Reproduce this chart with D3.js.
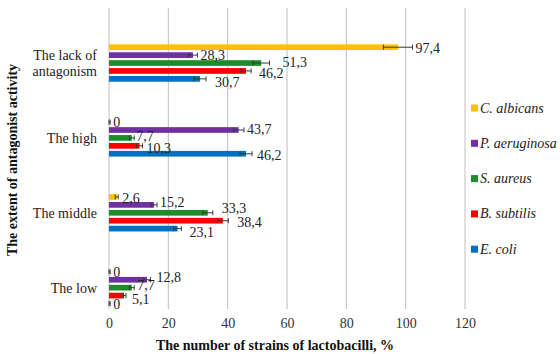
<!DOCTYPE html>
<html>
<head>
<meta charset="utf-8">
<script src="https://cdn.jsdelivr.net/npm/d3@7"></script>
<style>
  html, body { margin: 0; padding: 0; background: #fff; }
  svg { display: block; }
</style>
</head>
<body>
<svg id="chart" width="560" height="354"></svg>
<script>
// Categories (top to bottom) and series (top to bottom within each group)
const categories = ["The lack of antagonism", "The high", "The middle", "The low"];
const categoryLines = [["The lack of", "antagonism"], ["The high"], ["The middle"], ["The low"]];
const seriesNames = ["C. albicans", "P. aeruginosa", "S. aureus", "B. subtilis", "E. coli"];
const seriesColors = ["#FFC000", "#7030A0", "#1E8C2A", "#FF0000", "#0070C0"];

// Percentage of lactobacilli strains, one array per series (order follows categories)
const cAlbicans   = [97.4, 0, 2.6, 0];
const pAeruginosa = [28.3, 43.7, 15.2, 12.8];
const sAureus     = [51.3, 7.7, 33.3, 7.7];
const bSubtilis   = [46.2, 10.3, 38.4, 5.1];
const eColi       = [30.7, 46.2, 23.1, 0];

// Error bar half-widths
const cAlbicansErr   = [4.9, 0.4, 0.5, 0.4];
const pAeruginosaErr = [1.5, 1.8, 1.0, 1.2];
const sAureusErr     = [2.8, 0.8, 1.7, 0.8];
const bSubtilisErr   = [1.7, 1.0, 1.8, 0.6];
const eColiErr       = [2.0, 2.0, 1.3, 0.4];

const xTicks = [0, 20, 40, 60, 80, 100, 120];

// Hand-placed label offsets [dx, dy] in px, per series and category
const labelNudge = [
  [[0, 1], [0, 0], [1, 1], [0, 0]],
  [[0, 0], [0, -1], [0, -3], [3, -3]],
  [[10, -1], [-1, -2], [6, -5], [0, -3]],
  [[5, 2], [1, 2], [6, 1], [3, 3]],
  [[6, 3], [2, 1], [5, 3], [0, 1]]
];

const FONT = '"Liberation Serif", "Times New Roman", serif';

const seriesValues = [cAlbicans, pAeruginosa, sAureus, bSubtilis, eColi];
const seriesErrors = [cAlbicansErr, pAeruginosaErr, sAureusErr, bSubtilisErr, eColiErr];

const rows = [];
categories.forEach((c, ci) => {
  seriesNames.forEach((s, si) => {
    rows.push({ cat: c, ci, ser: s, si, value: seriesValues[si][ci], err: seriesErrors[si][ci] });
  });
});

const svg = d3.select("#chart");
const plot = { left: 109, right: 465, top: 8, bottom: 309 };

const x = d3.scaleLinear().domain([0, 120]).range([plot.left, plot.right]);
const y = d3.scaleBand().domain(categories).range([plot.top, plot.bottom])
  .paddingInner(0.48).paddingOuter(0.25).align(0.95);
const ySub = d3.scaleBand().domain(seriesNames).range([0, y.bandwidth()])
  .paddingInner(0.28).paddingOuter(0.1);

// Vertical gridlines
svg.append("g").selectAll("line").data(xTicks).join("line")
  .attr("x1", d => x(d)).attr("x2", d => x(d))
  .attr("y1", plot.top).attr("y2", plot.bottom)
  .attr("stroke", "#BEBEBE").attr("stroke-width", 1);

// X axis tick labels
const xAxis = d3.axisBottom(x).tickValues(xTicks).tickSize(0).tickPadding(0);
const gx = svg.append("g").attr("transform", `translate(0,${plot.bottom + 9})`).call(xAxis)
  .attr("font-family", FONT).attr("font-size", 14);
gx.select(".domain").remove();
gx.selectAll("text").attr("fill", "#333").attr("dy", "0.71em");

// Bars
svg.append("g").selectAll("rect").data(rows).join("rect")
  .attr("x", x(0))
  .attr("y", d => y(d.cat) + ySub(d.ser))
  .attr("width", d => x(d.value) - x(0))
  .attr("height", ySub.bandwidth())
  .attr("fill", d => seriesColors[d.si]);

// Error bars
const eb = svg.append("g").attr("stroke", "#3a3a3a").attr("stroke-width", 1);
rows.forEach(d => {
  const cy = y(d.cat) + ySub(d.ser) + ySub.bandwidth() / 2;
  const x0 = x(Math.max(0, d.value - d.err)), x1 = x(d.value + d.err);
  eb.append("line").attr("x1", x0).attr("x2", x1).attr("y1", cy).attr("y2", cy);
  eb.append("line").attr("x1", x0).attr("x2", x0).attr("y1", cy - 2.5).attr("y2", cy + 2.5);
  eb.append("line").attr("x1", x1).attr("x2", x1).attr("y1", cy - 2.5).attr("y2", cy + 2.5);
});

// Value labels with comma decimal separator
const fmt = v => String(v).replace(".", ",");
svg.append("g").attr("font-family", FONT).attr("font-size", 14).attr("fill", "#222")
  .selectAll("text").data(rows).join("text")
  .attr("x", d => x(d.value + d.err) + 3 + labelNudge[d.si][d.ci][0])
  .attr("y", d => y(d.cat) + ySub(d.ser) + ySub.bandwidth() / 2 + 5 + labelNudge[d.si][d.ci][1])
  .text(d => fmt(d.value));

// Category labels
const gc = svg.append("g").attr("font-family", FONT).attr("font-size", 14).attr("fill", "#222");
categories.forEach((c, ci) => {
  const lines = categoryLines[ci];
  const cy = y(c) + y.bandwidth() / 2;
  lines.forEach((ln, li) => {
    gc.append("text")
      .attr("x", 97)
      .attr("y", cy + (li - (lines.length - 1) / 2) * 16 + 5)
      .attr("text-anchor", "end")
      .text(ln);
  });
});

// Axis titles
svg.append("text")
  .attr("x", 275).attr("y", 350)
  .attr("text-anchor", "middle")
  .attr("font-family", FONT).attr("font-size", 14).attr("font-weight", "bold").attr("fill", "#111")
  .text("The number of strains of lactobacilli, %");

svg.append("text")
  .attr("transform", "translate(17,160) rotate(-90)")
  .attr("text-anchor", "middle")
  .attr("font-family", FONT).attr("font-size", 14).attr("font-weight", "bold").attr("fill", "#111")
  .text("The extent of antagonist activity");

// Legend
const lg = svg.append("g").attr("font-family", FONT).attr("font-size", 14)
  .attr("font-style", "italic").attr("fill", "#222");
seriesNames.forEach((s, i) => {
  const ly = 108 + i * 35.3;
  lg.append("rect").attr("x", 471).attr("y", ly - 3.5).attr("width", 7).attr("height", 7)
    .attr("fill", seriesColors[i]);
  lg.append("text").attr("x", 480).attr("y", ly + 4.5).text(s);
});
</script>
</body>
</html>
